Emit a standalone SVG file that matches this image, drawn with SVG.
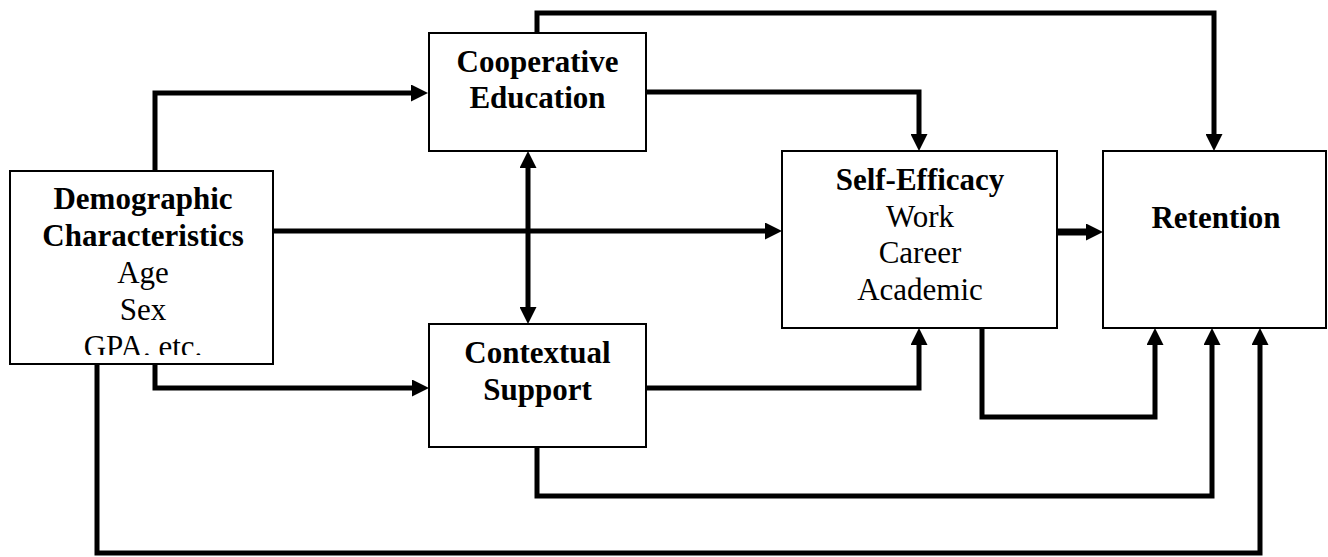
<svg xmlns="http://www.w3.org/2000/svg" width="1328" height="557" viewBox="0 0 1328 557">
<style>
.box{fill:#fff;stroke:#000;stroke-width:2}
.t{font-family:"Liberation Serif","Times New Roman",serif;font-size:31px;fill:#000;text-anchor:middle}
.b{font-weight:bold}
.c{fill:none;stroke:#000;stroke-width:5;stroke-linejoin:miter;stroke-linecap:butt}
.cw{fill:none;stroke:#000;stroke-width:7;stroke-linecap:butt}
</style>
<defs>
<marker id="ah" markerUnits="userSpaceOnUse" markerWidth="17" markerHeight="17" refX="9" refY="8.5" orient="auto-start-reverse">
<path d="M0,0 L17,8.5 L0,17 z" fill="#000"/>
</marker>
<clipPath id="demoClip"><rect x="10" y="170" width="264" height="185"/></clipPath>
</defs>
<rect width="1328" height="557" fill="#fff"/>
<g id="connectors">
<path class="c" d="M155,171 V93 H420" marker-end="url(#ah)"/>
<path class="c" d="M273,231 H774" marker-end="url(#ah)"/>
<path class="c" d="M155,363 V388 H421" marker-end="url(#ah)"/>
<path class="c" d="M97,363 V553 H1260 V336" marker-end="url(#ah)"/>
<path class="c" d="M646,92 H919 V143" marker-end="url(#ah)"/>
<path class="c" d="M537,34 V13 H1214 V143" marker-end="url(#ah)"/>
<path class="c" d="M528,159 V316" marker-start="url(#ah)" marker-end="url(#ah)"/>
<path class="c" d="M646,388 H919 V336" marker-end="url(#ah)"/>
<path class="c" d="M537,446 V496 H1212 V336" marker-end="url(#ah)"/>
<path class="c" d="M982,327 V417 H1155 V336" marker-end="url(#ah)"/>
<path class="cw" d="M1057,232 H1095" marker-end="url(#ah)"/>
</g>
<g id="demographic">
<rect class="box" x="10" y="171" width="263" height="193"/>
<g clip-path="url(#demoClip)">
<text class="t b" x="143" y="209">Demographic</text>
<text class="t b" x="143" y="246">Characteristics</text>
<text class="t" x="143" y="283">Age</text>
<text class="t" x="143" y="320">Sex</text>
<text class="t" x="143" y="357">GPA. etc.</text>
</g>
</g>
<g id="cooperative">
<rect class="box" x="429" y="33" width="217" height="118"/>
<text class="t b" x="537.5" y="72">Cooperative</text>
<text class="t b" x="537.5" y="108">Education</text>
</g>
<g id="contextual">
<rect class="box" x="429" y="324" width="217" height="123"/>
<text class="t b" x="537.5" y="363">Contextual</text>
<text class="t b" x="537.5" y="400">Support</text>
</g>
<g id="selfefficacy">
<rect class="box" x="782" y="151" width="275" height="177"/>
<text class="t b" x="920" y="190">Self-Efficacy</text>
<text class="t" x="920" y="227">Work</text>
<text class="t" x="920" y="263">Career</text>
<text class="t" x="920" y="300">Academic</text>
</g>
<g id="retention">
<rect class="box" x="1103" y="151" width="223" height="177"/>
<text class="t b" x="1216" y="228">Retention</text>
</g>
</svg>
